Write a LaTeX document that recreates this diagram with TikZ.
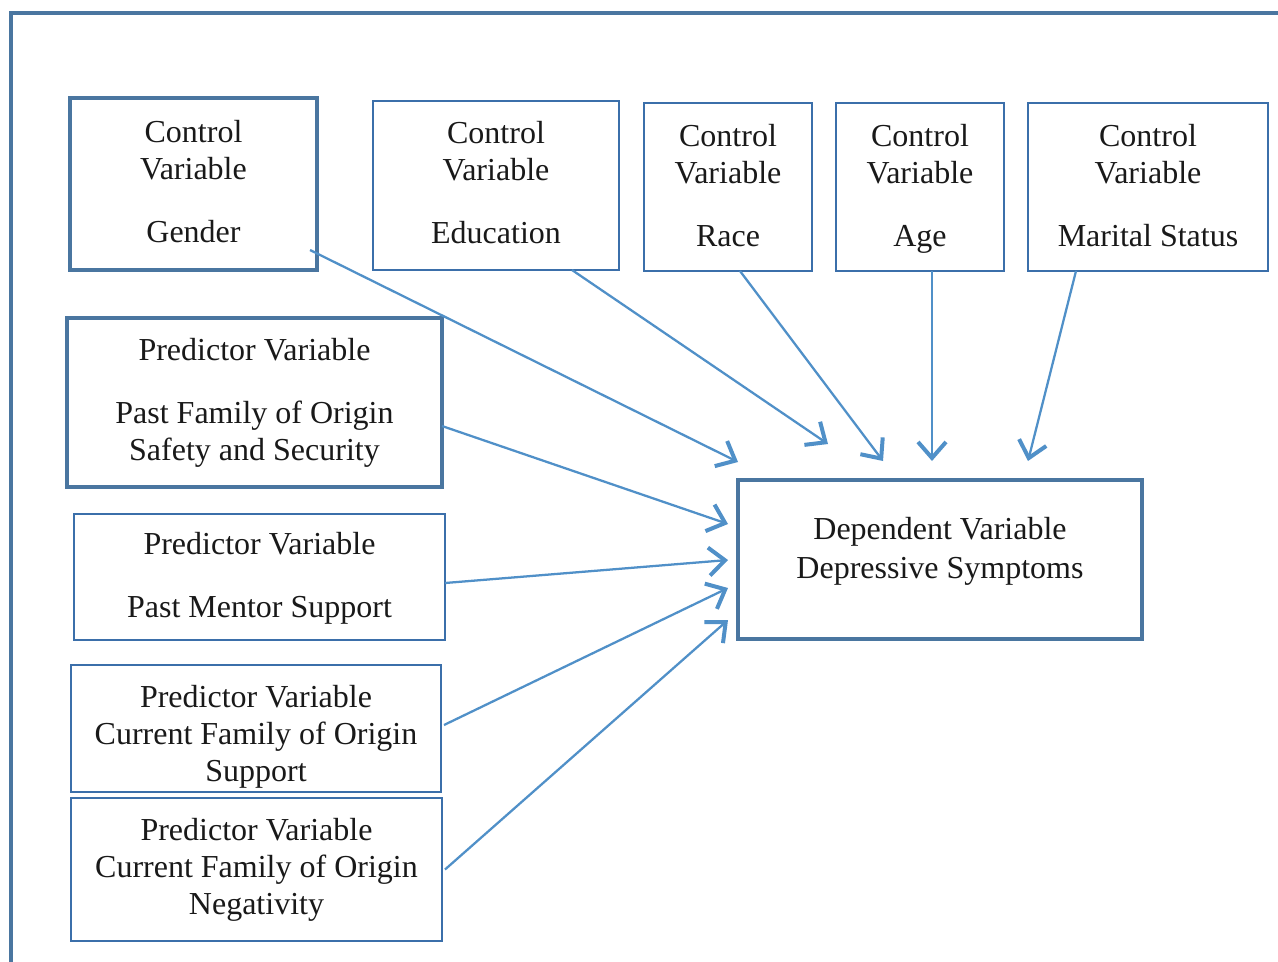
\documentclass[tikz,border=0pt]{standalone}
\usepackage{fontspec}
\setmainfont{Liberation Serif}
\usetikzlibrary{arrows.meta,calc}
\definecolor{frameblue}{HTML}{4A76A0}
\definecolor{thinblue}{HTML}{3B6FAA}
\definecolor{arrowblue}{HTML}{5090C8}
\newcommand{\dpt}[1]{\rule[-#1]{0pt}{#1}}
\newcommand{\htp}[1]{\rule{0pt}{#1}}
\begin{document}
\begin{tikzpicture}[x=0.75pt,y=-0.75pt,
  sz/.style 2 args={minimum width=#1*0.75pt, minimum height=#2*0.75pt},
  boxbase/.style={rectangle, inner sep=0pt, outer sep=0pt, align=center,
    font={\fontsize{24pt}{27.75pt}\selectfont}, text=black!90},
  thickbox/.style={boxbase, draw=frameblue, line width=3.4pt},
  thinbox/.style={boxbase, draw=thinblue, line width=2pt},
  conn/.style={draw=arrowblue, line width=1.7pt,
    -{Straight Barb[length=12pt,width=21pt,line width=3pt]}}]
\useasboundingbox (0,0) rectangle (1278,961);
\fill[white] (0,0) rectangle (1278,961);
% outer frame
\draw[frameblue, line width=3.2pt] (11,990) -- (11,13) -- (1300,13);

% control variables
\node[thickbox, sz={247}{172}] (gender) at (193.5,184) {Control\\Variable\\[19.5pt]Gender\dpt{4.5pt}};
\node[thinbox, sz={246}{169}] (edu) at (496,185.5) {Control\\Variable\\[19.5pt]Education\dpt{5pt}};
\node[thinbox, sz={168}{168}] (race) at (728,187) {Control\\Variable\\[19.5pt]Race\dpt{3pt}};
\node[thinbox, sz={168}{168}] (age) at (920,187) {\htp{18.8pt}Control\\Variable\\[19.5pt]Age};
\node[thinbox, sz={240}{168}] (marital) at (1148,187) {Control\\Variable\\[19.5pt]Marital Status\dpt{2.5pt}};

% predictors
\node[thickbox, sz={375}{169}] (p1) at (254.5,402.5) {Predictor Variable\\[19.5pt]Past Family of Origin\\Safety and Security};
\node[thinbox, sz={371}{126}] (p2) at (259.5,577) {\htp{19pt}Predictor Variable\\[19.5pt]Past Mentor Support};
\node[thinbox, sz={370}{127}] (p3) at (256,728.5) {\htp{28.6pt}Predictor Variable\\Current Family of Origin\\Support};
\node[thinbox, sz={371}{143}] (p4) at (256.5,869.5) {Predictor Variable\\Current Family of Origin\\Negativity};

% dependent
\node[thickbox, sz={404}{159}] (dep) at (940,559.5) {Dependent Variable\\[1.5pt]Depressive Symptoms\\[-11pt]\mbox{}};

% connectors
\draw[conn] ($(gender.south east)+(-7,-20)$) -- ($(dep.north west)+(0,-18)$);
\draw[conn] ($(edu.south west)+(199,0)$) -- ($(dep.north west)+(90,-36)$);
\draw[conn] ($(race.south west)+(96,0)$) -- ($(dep.north west)+(145,-19)$);
\draw[conn] ($(age.south)+(12,0)$) -- ($(dep.north west)+(194,-19)$);
\draw[conn] ($(marital.south west)+(48,0)$) -- ($(dep.north west)+(290,-19)$);
\draw[conn] ($(p1.east)+(0,23.5)$) -- ($(dep.north west)+(-10,44)$);
\draw[conn] ($(p2.east)+(0,6)$) -- ($(dep.north west)+(-10,80)$);
\draw[conn] ($(p3.east)+(3,-3.5)$) -- ($(dep.north west)+(-10,108)$);
\draw[conn] ($(p4.east)+(3,0)$) -- ($(dep.north west)+(-10,140)$);
\end{tikzpicture}
\end{document}
